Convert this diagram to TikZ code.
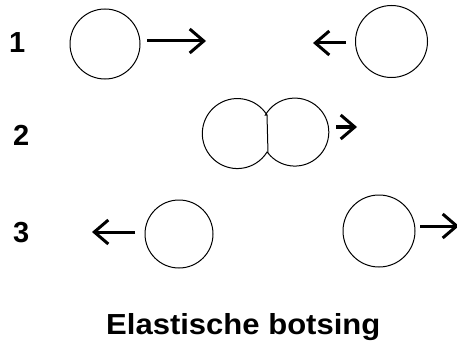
\documentclass[tikz,border=0pt]{standalone}
\usepackage{fontspec}
\usepackage{graphicx}
\setmainfont{Liberation Sans}
\usetikzlibrary{arrows.meta}
\begin{document}
\begin{tikzpicture}[x=1pt,y=-1pt,
  ball/.style={circle,draw,line width=1pt,inner sep=0pt},
  arr/.style={line width=3pt,-{Straight Barb[length=14pt,width=24pt,line width=3pt]}},
  lab/.style={font=\fontsize{29}{30}\selectfont\bfseries,inner sep=0pt,anchor=base west}]
\useasboundingbox (0,0) rectangle (457,342);
\clip (0,0) rectangle (457,342);
% labels
\node[lab] (l1) at (9,53) {1};
\node[lab] (l2) at (13,145) {2};
\node[lab] (l3) at (13,242) {3};
% row 1
\node[ball,minimum size=70pt] (c1a) at (105,44) {};
\node[ball,minimum size=72pt] (c1b) at (391.5,41.5) {};
\coordinate (a1s) at (147,41);
\coordinate (a1e) at (206,41);
\draw[arr] (a1s) -- (a1e);
\coordinate (b1s) at (346,43);
\coordinate (b1e) at (313,43);
\draw[arr] (b1s) -- (b1e);
% row 2
\coordinate (j1) at (267,115);
\coordinate (j2) at (268,153);
\draw[line width=1pt] (j1) arc[start angle=-32,end angle=-328,radius=35] -- (j2)
  arc[start angle=142,end angle=-150,radius=34] -- (j1);
\draw[line width=1pt] (j1) -- (j2);
\coordinate (a2s) at (336,127);
\coordinate (a2e) at (357,127);
\draw[arr,line width=3.5pt] (a2s) -- (a2e);
% row 3
\node[ball,minimum size=68pt] (c3a) at (179,234) {};
\node[ball,minimum size=72pt] (c3b) at (379,231) {};
\coordinate (a3s) at (135,232);
\coordinate (a3e) at (92,232);
\draw[arr] (a3s) -- (a3e);
\coordinate (b3s) at (420,226);
\coordinate (b3e) at (459,226);
\draw[arr] (b3s) -- (b3e);
% title
\node[font=\fontsize{29}{32}\selectfont\bfseries,inner sep=0pt,anchor=base west] (t) at (106,334) {\scalebox{1.07}[1]{Elastische botsing}};
\end{tikzpicture}
\end{document}
